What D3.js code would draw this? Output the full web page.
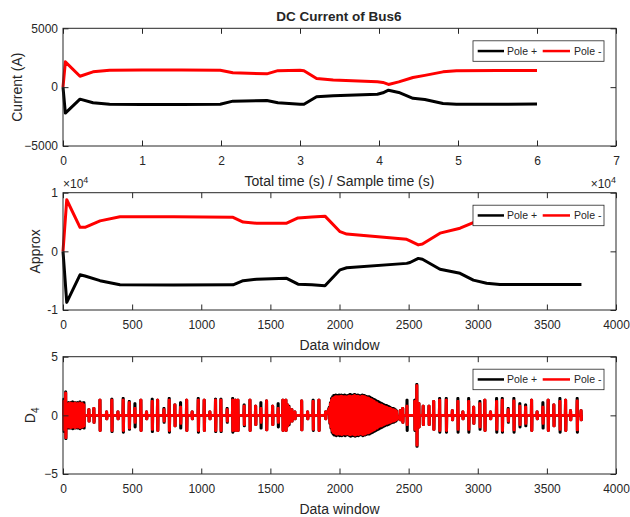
<!DOCTYPE html>
<html>
<head>
<meta charset="utf-8">
<script src="https://cdn.jsdelivr.net/npm/d3@7"></script>
<style>
  body { margin: 0; background: #fff; }
  text { font-family: "Liberation Sans", Arial, Helvetica, sans-serif; fill: #262626; }
</style>
</head>
<body>
<svg id="chart" width="630" height="517"></svg>
<script>
// ---- panel 1: DC current vs time (x axis in units of 1e4) ----
let curTime = [0, 0.03, 0.215, 0.38, 0.59, 1.0, 1.5, 1.99, 2.15, 2.58, 2.72, 3.0, 3.05, 3.21, 3.42, 3.98, 4.05, 4.12, 4.25, 4.43, 4.58, 4.81, 4.98, 5.5, 6.0];
let curPolePos = [0, -2200, -1020, -1330, -1450, -1470, -1470, -1450, -1190, -1130, -1330, -1450, -1450, -820, -730, -600, -480, -260, -450, -950, -1050, -1390, -1450, -1450, -1440];
let curPoleNeg = [0, 2150, 930, 1300, 1440, 1450, 1450, 1440, 1220, 1130, 1400, 1440, 1400, 740, 600, 450, 400, 230, 450, 820, 1000, 1300, 1400, 1420, 1420];

// ---- panel 2: approximation coefficients vs data window ----
let apxWindow = [0, 27, 123, 159, 268, 412, 800, 1230, 1303, 1400, 1618, 1700, 1800, 1895, 2004, 2052, 2486, 2510, 2570, 2600, 2727, 2872, 2968, 3064, 3160, 3450, 3750];
let apxPolePos = [0, -8700, -4000, -4200, -5000, -5700, -5750, -5700, -5000, -4750, -4600, -5600, -5700, -5850, -3150, -2800, -2050, -1900, -1200, -1350, -3050, -3750, -4900, -5450, -5650, -5650, -5650];
let apxPoleNeg = [0, 8800, 4100, 4100, 5200, 5900, 5900, 5800, 5000, 4800, 4800, 5700, 5850, 6000, 3350, 2950, 2050, 1800, 1100, 1250, 3100, 3950, 4900, 5500, 5700, 5800, 5800];

// ---- panel 3: D4 detail coefficients, bursts (window position, amplitude) ----
let d4SpikeX = [7, 20, 40, 55, 70, 87, 105, 123, 140, 152, 188, 224, 268, 316, 354, 398, 436, 480, 521, 564, 605, 646, 685, 731, 769, 810, 851, 895, 935, 979, 1022, 1063, 1104, 1143, 1188, 1228, 1248, 1260, 1266, 1311, 1353, 1394, 1432, 1473, 1517, 1557, 1591, 1603, 1613, 1625, 1635, 1656, 1678, 1727, 1770, 1810, 1852, 1900,
  2440, 2458, 2489, 2545, 2560, 2575, 2606, 2648, 2682, 2725, 2773, 2817, 2857, 2893, 2935, 2971, 3016, 3052, 3093, 3137, 3178, 3221, 3262, 3305, 3347, 3390, 3430, 3472, 3510, 3551, 3595, 3636, 3672, 3720, 3748];
let d4SpikePos = [1.4, 2.0, 1.1, 1.1, 1.15, 1.1, 1.1, 1.15, 1.05, 1.1, 0.5, 0.6, 1.3, 0.3, 1.4, 0.3, 1.45, 1.2, 1.0, 1.3, 0.3, 1.4, 1.3, 0.6, 1.45, 0.9, 1.1, 1.3, 0.3, 1.45, 1.3, 0.3, 1.4, 1.4, 0.6, 1.45, 1.3, 1.2, 1.3, 0.9, 1.3, 0.8, 1.1, 1.25, 0.8, 1.0, 1.3, 1.2, 1.3, 0.9, 0.8, 0.5, 0.3, 1.25, 0.3, 1.3, 1.3, 0.3,
  0.4, 0.6, 1.3, 1.3, 2.65, 1.0, 0.8, 0.8, 1.2, 1.45, 1.45, 0.4, 1.45, 0.3, 1.45, 0.7, 1.2, 1.3, 0.3, 1.45, 1.45, 0.6, 1.45, 1.0, 0.9, 1.3, 0.3, 1.1, 1.3, 0.9, 1.45, 1.3, 0.4, 1.45, 0.4];
let d4SpikeNeg = [1.2, 1.9, 1.0, 1.05, 1.0, 1.05, 1.0, 1.05, 1.0, 0.9, 0.5, 0.6, 1.3, 0.3, 1.3, 0.3, 1.3, 1.1, 0.6, 1.3, 0.3, 1.2, 1.3, 0.5, 1.3, 0.9, 0.7, 1.3, 0.3, 1.3, 1.3, 0.3, 1.3, 1.3, 0.5, 1.3, 1.3, 1.2, 1.3, 0.8, 1.3, 0.8, 0.6, 1.25, 0.8, 0.6, 1.3, 1.1, 1.3, 0.9, 0.7, 0.5, 0.3, 1.25, 0.3, 1.2, 1.3, 0.3,
  0.4, 0.6, 0.8, 1.2, 2.55, 1.0, 0.8, 0.8, 1.2, 1.3, 1.3, 0.4, 1.2, 0.3, 1.2, 0.7, 1.0, 1.3, 0.3, 1.2, 1.3, 0.5, 1.25, 0.8, 0.7, 1.3, 0.3, 0.7, 1.3, 0.9, 1.2, 1.3, 0.4, 1.25, 0.4];
// dense burst between ~1925 and ~2420 (one cycle amplitude every 8 windows)
let d4BlobStart = 1925, d4BlobStep = 8;
let d4BlobPos = [0.7, 1.1, 1.45, 1.6, 1.7,
  1.7, 1.75, 1.7, 1.7, 1.75, 1.7, 1.75, 1.7, 1.7, 1.75, 1.7, 0.5,
  1.7, 1.75, 1.8, 1.75, 1.7, 1.75, 1.8, 1.75, 1.7, 1.75, 1.7, 0.6,
  1.7, 1.75, 1.7, 1.7, 1.65, 1.6, 1.6, 1.6, 1.55, 1.5, 1.45, 1.4,
  1.35, 1.3, 1.25, 1.2, 1.15, 1.1, 1.05, 1.0,
  0.95, 0.9, 0.85, 0.85, 0.8, 0.75, 0.7, 0.65, 0.6, 0.6, 0.55, 0.5, 0.4];
let d4BlobNeg = [0.6, 1.0, 1.3, 1.45, 1.5,
  1.55, 1.6, 1.6, 1.55, 1.6, 1.6, 1.65, 1.6, 1.55, 1.6, 1.6, 0.4,
  1.6, 1.65, 1.65, 1.6, 1.6, 1.65, 1.7, 1.65, 1.6, 1.65, 1.6, 0.5,
  1.6, 1.65, 1.6, 1.6, 1.55, 1.5, 1.5, 1.45, 1.4, 1.35, 1.3, 1.25,
  1.2, 1.1, 1.1, 1.0, 0.95, 0.9, 0.9, 0.85,
  0.8, 0.75, 0.7, 0.7, 0.65, 0.6, 0.6, 0.55, 0.5, 0.5, 0.45, 0.4, 0.35];

let legendNames = ["Pole +", "Pole -"];
let seriesColors = ["#000000", "#ff0000"];

let svg = d3.select("#chart");
let left = 63, right = 616;
let tickLen = 5.5;

// turn burst lists into a wiggly line: each burst swings up and down around 0
function burstPoints(xs, amps, blobAmps) {
    let pts = [];
    xs.forEach((x, i) => {
        let a = amps[i];
        pts.push([x - 4, 0], [x - 2.5, a], [x - 1, -a], [x + 1, a], [x + 2.5, -a], [x + 4, 0]);
    });
    blobAmps.forEach((a, i) => {
        let bx = d4BlobStart + i * d4BlobStep;
        pts.push([bx, a], [bx + d4BlobStep / 2, -a]);
    });
    pts.sort((p, q) => p[0] - q[0]);
    return [[0, 0]].concat(pts);
}

function drawPanel(opt) {
    let x = d3.scaleLinear().domain(opt.xDomain).range([left, right]);
    let y = d3.scaleLinear().domain(opt.yDomain).range([opt.bottom, opt.top]);
    let g = svg.append("g");

    // lines
    let line = d3.line().x(d => x(d[0])).y(d => y(d[1]));
    opt.series.forEach((pts, i) => {
        g.append("path")
            .attr("d", line(pts))
            .attr("fill", "none")
            .attr("stroke", seriesColors[i])
            .attr("stroke-width", opt.lineWidth)
            .attr("stroke-linejoin", "round");
    });

    // axes (ticks inside, box on)
    let fontSize = "12px";
    let bottomAxis = d3.axisBottom(x).tickValues(opt.xTicks).tickFormat(opt.xFmt)
        .tickSizeInner(-tickLen).tickSizeOuter(0).tickPadding(10.5);
    let topAxis = d3.axisTop(x).tickValues(opt.xTicks).tickFormat("")
        .tickSizeInner(-tickLen).tickSizeOuter(0);
    let leftAxis = d3.axisLeft(y).tickValues(opt.yTicks).tickFormat(opt.yFmt)
        .tickSizeInner(-tickLen).tickSizeOuter(0).tickPadding(5);
    let rightAxis = d3.axisRight(y).tickValues(opt.yTicks).tickFormat("")
        .tickSizeInner(-tickLen).tickSizeOuter(0);

    [[bottomAxis, `translate(0,${opt.bottom})`], [topAxis, `translate(0,${opt.top})`],
     [leftAxis, `translate(${left},0)`], [rightAxis, `translate(${right},0)`]].forEach(a => {
        let ag = g.append("g").attr("transform", a[1]).call(a[0]);
        ag.select(".domain").remove();
        ag.selectAll("line").attr("stroke", "#262626");
        ag.selectAll("text").attr("font-size", fontSize).attr("fill", "#262626")
            .style("font-family", '"Liberation Sans", Arial, sans-serif');
    });

    g.append("rect")
        .attr("x", left).attr("y", opt.top)
        .attr("width", right - left).attr("height", opt.bottom - opt.top)
        .attr("fill", "none").attr("stroke", "#262626").attr("stroke-width", 1);

    // axis labels
    g.append("text")
        .attr("x", (left + right) / 2).attr("y", opt.bottom + 39.5)
        .attr("text-anchor", "middle").attr("font-size", "14px")
        .text(opt.xLabel);

    let yl = g.append("text")
        .attr("transform", `translate(${opt.yLabelX},${(opt.top + opt.bottom) / 2}) rotate(-90)`)
        .attr("text-anchor", "middle").attr("font-size", "14px");
    yl.append("tspan").text(opt.yLabel);
    if (opt.yLabelSub) {
        yl.append("tspan").attr("font-size", "10px").attr("dy", "4").text(opt.yLabelSub);
    }

    // legend
    let lg = g.append("g").attr("transform", `translate(473,${opt.top + 12.5})`);
    lg.append("rect").attr("width", 131).attr("height", 20.5)
        .attr("fill", "#fff").attr("stroke", "#262626").attr("stroke-width", 0.8);
    let itemX = [[4.7, 31, 34], [69.7, 97, 101]];
    legendNames.forEach((name, i) => {
        lg.append("line")
            .attr("x1", itemX[i][0]).attr("x2", itemX[i][1])
            .attr("y1", 10.25).attr("y2", 10.25)
            .attr("stroke", seriesColors[i]).attr("stroke-width", 2.5);
        lg.append("text")
            .attr("x", itemX[i][2]).attr("y", 14)
            .attr("font-size", "10.5px").attr("fill", "#000")
            .text(name);
    });
    return { x, y };
}

function expLabel(xp, yp, anchor) {
    let t = svg.append("text").attr("x", xp).attr("y", yp)
        .attr("text-anchor", anchor).attr("font-size", "12px");
    t.append("tspan").text("\u00d710");
    t.append("tspan").attr("font-size", "9px").attr("dy", "-5").text("4");
}

let zip = (a, b) => a.map((v, i) => [v, b[i]]);

// panel 1
drawPanel({
    top: 28.3, bottom: 146,
    xDomain: [0, 7], yDomain: [-5000, 5000],
    xTicks: d3.range(0, 8), yTicks: [-5000, 0, 5000],
    xFmt: d3.format("d"), yFmt: d3.format("d"),
    series: [zip(curTime, curPolePos), zip(curTime, curPoleNeg)],
    lineWidth: 3,
    xLabel: "Total time (s) / Sample time (s)",
    yLabel: "Current (A)", yLabelX: 22
});

// panel 2
drawPanel({
    top: 192.7, bottom: 310,
    xDomain: [0, 4000], yDomain: [-10000, 10000],
    xTicks: d3.range(0, 4001, 500), yTicks: [-10000, 0, 10000],
    xFmt: d3.format("d"), yFmt: d => d / 10000,
    series: [zip(apxWindow, apxPolePos), zip(apxWindow, apxPoleNeg)],
    lineWidth: 3,
    xLabel: "Data window",
    yLabel: "Approx", yLabelX: 40
});

// panel 3
drawPanel({
    top: 356.7, bottom: 474,
    xDomain: [0, 4000], yDomain: [-5, 5],
    xTicks: d3.range(0, 4001, 500), yTicks: [-5, 0, 5],
    xFmt: d3.format("d"), yFmt: d3.format("d"),
    series: [burstPoints(d4SpikeX, d4SpikePos, d4BlobPos), burstPoints(d4SpikeX, d4SpikeNeg, d4BlobNeg)],
    lineWidth: 2.6,
    xLabel: "Data window",
    yLabel: "D", yLabelSub: "4", yLabelX: 35
});

// exponent labels
expLabel(616, 188, "end");
expLabel(63, 188, "start");

// title
svg.append("text")
    .attr("x", 339).attr("y", 21)
    .attr("text-anchor", "middle")
    .attr("font-size", "13.5px").attr("font-weight", "bold").attr("fill", "#000")
    .text("DC Current of Bus6");
</script>
</body>
</html>
